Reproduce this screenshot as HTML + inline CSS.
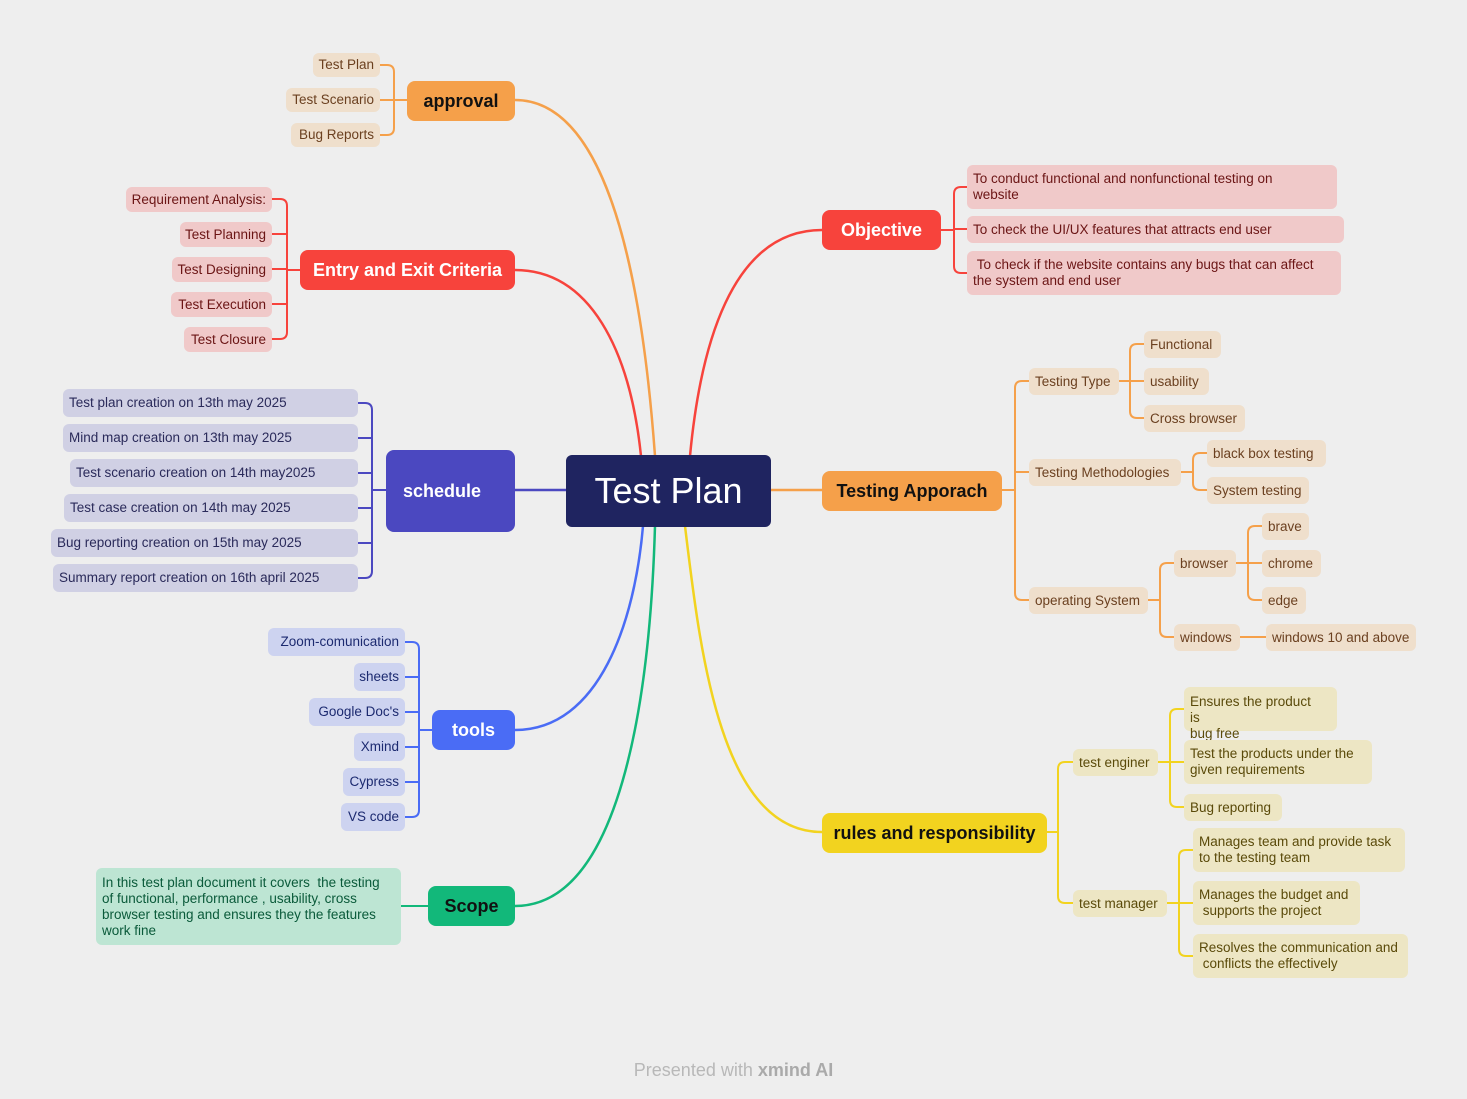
<!DOCTYPE html>
<html><head><meta charset="utf-8"><style>
body{margin:0;background:#eeeeee;width:1467px;height:1099px;overflow:hidden;position:relative;font-family:"Liberation Sans",sans-serif}
.n{position:absolute;box-sizing:border-box;border-radius:6px;font-size:13.5px;line-height:16px;padding:0 6px;white-space:nowrap;display:flex;align-items:center}
.R{justify-content:flex-end}
.m{border-radius:8px;font-size:18px;padding:0 17px;font-weight:bold}
.o{background:#efdfcc;color:#6b4020}
.r{background:#f0c9c9;color:#6b1515}
.s{background:#d0d0e4;color:#2a2a5a}
.t{background:#cdd3f0;color:#1c2a70}
.g{background:#bde5d3;color:#0a5a3a}
.y{background:#ede6c4;color:#5a4a0a}
.w{white-space:normal}
</style></head><body>
<svg id="sv" width="1467" height="1099" style="position:absolute;left:0;top:0" fill="none" stroke-width="2.5">
<path d="M515,100 C600,100 640,250 655,456" stroke="#f5a04a"/>
<path d="M515,270 C590,270 630,350 641,456" stroke="#f7433c"/>
<path d="M515,490 H566" stroke="#4b48c0"/>
<path d="M515,730 C600,730 635,620 643,526" stroke="#4a6cf5"/>
<path d="M515,906 C620,906 650,700 655,526" stroke="#12b87a"/>
<path d="M822,230 C730,230 700,350 690,456" stroke="#f7433c"/>
<path d="M770,490 H822" stroke="#f5a04a"/>
<path d="M822,832 C720,832 700,650 685,526" stroke="#f2d31f"/>
</svg>

<div class="n" style="left:566px;top:455px;width:205px;height:72px;background:#1f2460;color:#fff;font-size:36px;justify-content:center;border-radius:6px">Test Plan</div>

<div class="n m" style="left:407px;top:81px;width:108px;height:40px;background:#f5a04a;color:#111;justify-content:center">approval</div>
<div class="n o R" style="left:313px;top:53px;width:67px;height:24px">Test Plan</div>
<div class="n o R" style="left:286px;top:88px;width:94px;height:24px">Test Scenario</div>
<div class="n o R" style="left:291px;top:123px;width:89px;height:24px">Bug Reports</div>

<div class="n m" style="left:300px;top:250px;width:215px;height:40px;background:#f7433c;color:#fff;justify-content:center">Entry and Exit Criteria</div>
<div class="n r R" style="left:126px;top:187px;width:146px;height:25px">Requirement Analysis:</div>
<div class="n r R" style="left:180px;top:222px;width:92px;height:25px">Test Planning</div>
<div class="n r R" style="left:172px;top:257px;width:100px;height:25px">Test Designing</div>
<div class="n r R" style="left:171px;top:292px;width:101px;height:25px">Test Execution</div>
<div class="n r R" style="left:184px;top:327px;width:88px;height:25px">Test Closure</div>

<div class="n m" style="left:386px;top:450px;width:129px;height:82px;background:#4b48c0;color:#fff">schedule</div>
<div class="n s" style="left:63px;top:389px;width:295px;height:28px">Test plan creation on 13th may 2025</div>
<div class="n s" style="left:63px;top:424px;width:295px;height:28px">Mind map creation on 13th may 2025</div>
<div class="n s" style="left:70px;top:459px;width:288px;height:28px">Test scenario creation on 14th may2025</div>
<div class="n s" style="left:64px;top:494px;width:294px;height:28px">Test case creation on 14th may 2025</div>
<div class="n s" style="left:51px;top:529px;width:307px;height:28px">Bug reporting creation on 15th may 2025</div>
<div class="n s" style="left:53px;top:564px;width:305px;height:28px">Summary report creation on 16th april 2025</div>

<div class="n m" style="left:432px;top:710px;width:83px;height:40px;background:#4a6cf5;color:#fff;justify-content:center">tools</div>
<div class="n t R" style="left:268px;top:628px;width:137px;height:28px">Zoom-comunication</div>
<div class="n t R" style="left:354px;top:663px;width:51px;height:28px">sheets</div>
<div class="n t R" style="left:309px;top:698px;width:96px;height:28px">Google Doc's</div>
<div class="n t R" style="left:354px;top:733px;width:51px;height:28px">Xmind</div>
<div class="n t R" style="left:343px;top:768px;width:62px;height:28px">Cypress</div>
<div class="n t R" style="left:341px;top:803px;width:64px;height:28px">VS code</div>

<div class="n m" style="left:428px;top:886px;width:87px;height:40px;background:#12b87a;color:#111;justify-content:center">Scope</div>
<div class="n g w" style="left:96px;top:868px;width:305px;height:77px;font-size:13.5px;padding:0 6px">In this test plan document it covers&nbsp; the testing<br>of functional, performance , usability, cross<br>browser testing and ensures they the features<br>work fine</div>

<div class="n m" style="left:822px;top:210px;width:119px;height:40px;background:#f7433c;color:#fff;justify-content:center">Objective</div>
<div class="n r w" style="left:967px;top:165px;width:370px;height:44px">To conduct functional and nonfunctional testing on<br>website</div>
<div class="n r" style="left:967px;top:216px;width:377px;height:27px">To check the UI/UX features that attracts end user</div>
<div class="n r w" style="left:967px;top:251px;width:374px;height:44px">&nbsp;To check if the website contains any bugs that can affect<br>the system and end user</div>

<div class="n m" style="left:822px;top:471px;width:180px;height:40px;background:#f5a04a;color:#111;justify-content:center">Testing Apporach</div>
<div class="n o" style="left:1029px;top:368px;width:90px;height:27px">Testing Type</div>
<div class="n o" style="left:1029px;top:459px;width:152px;height:27px">Testing Methodologies</div>
<div class="n o" style="left:1029px;top:587px;width:119px;height:27px">operating System</div>
<div class="n o" style="left:1144px;top:331px;width:77px;height:27px">Functional</div>
<div class="n o" style="left:1144px;top:368px;width:65px;height:27px">usability</div>
<div class="n o" style="left:1144px;top:405px;width:101px;height:27px">Cross browser</div>
<div class="n o" style="left:1207px;top:440px;width:119px;height:27px">black box testing</div>
<div class="n o" style="left:1207px;top:477px;width:102px;height:27px">System testing</div>
<div class="n o" style="left:1174px;top:550px;width:62px;height:27px">browser</div>
<div class="n o" style="left:1174px;top:624px;width:66px;height:27px">windows</div>
<div class="n o" style="left:1262px;top:513px;width:47px;height:27px">brave</div>
<div class="n o" style="left:1262px;top:550px;width:59px;height:27px">chrome</div>
<div class="n o" style="left:1262px;top:587px;width:44px;height:27px">edge</div>
<div class="n o" style="left:1266px;top:624px;width:150px;height:27px">windows 10 and above</div>

<div class="n m" style="left:822px;top:813px;width:225px;height:40px;background:#f2d31f;color:#111;justify-content:center">rules and responsibility</div>
<div class="n y" style="left:1073px;top:749px;width:85px;height:27px">test enginer</div>
<div class="n y" style="left:1073px;top:890px;width:94px;height:27px">test manager</div>
<div class="n y w" style="left:1184px;top:687px;width:153px;height:44px;align-items:flex-start;padding-top:7px;overflow:visible">Ensures the product<br>is<br>bug free</div>
<div class="n y w" style="left:1184px;top:740px;width:188px;height:44px">Test the products under the given requirements</div>
<div class="n y" style="left:1184px;top:794px;width:98px;height:27px">Bug reporting</div>
<div class="n y w" style="left:1193px;top:828px;width:212px;height:44px">Manages team and provide task to the testing team</div>
<div class="n y w" style="left:1193px;top:881px;width:167px;height:44px">Manages the budget and &nbsp;supports the project</div>
<div class="n y w" style="left:1193px;top:934px;width:215px;height:44px">Resolves the communication and &nbsp;conflicts the effectively</div>

<div style="position:absolute;left:0;width:1467px;top:1060px;text-align:center;font-size:18px;color:#b8b8b8">Presented with <b style="color:#aaa">xmind AI</b></div>

<script>
var sv=document.getElementById('sv');
function p(d,c){var e=document.createElementNS('http://www.w3.org/2000/svg','path');e.setAttribute('d',d);e.setAttribute('stroke',c);e.setAttribute('stroke-width','2');e.setAttribute('fill','none');sv.appendChild(e);}
function br(px,py,bx,cx,cys,c,dir){
 var r=7;p('M'+px+','+py+' H'+bx,c);
 var a=cys[0],b=cys[cys.length-1];
 if(cys.length==1){p('M'+bx+','+py+' H'+cx,c);return;}
 var k=bx-dir*r;
 p('M'+cx+','+a+' H'+k+' Q'+bx+','+a+' '+bx+','+(a+r)+' V'+(b-r)+' Q'+bx+','+b+' '+k+','+b+' H'+cx,c);
 for(var i=1;i<cys.length-1;i++)p('M'+bx+','+cys[i]+' H'+cx,c);
}
var O='#f5a04a',Rr='#f7433c',S='#4b48c0',T='#4a6cf5',Y='#f2d31f';
br(407,100,394,380,[65,100,135],O,1);
br(300,270,287,272,[199,234,269,304,339],Rr,1);
br(386,490,372,358,[403,438,473,508,543,578],S,1);
br(432,730,419,405,[642,677,712,747,782,817],T,1);
p('M428,906 H401','#12b87a');
br(941,230,954,967,[187,229,273],Rr,-1);
br(1002,490,1015,1029,[381,472,600],O,-1);
br(1119,381,1130,1144,[344,381,418],O,-1);
br(1181,472,1193,1207,[453,490],O,-1);
br(1148,600,1160,1174,[563,637],O,-1);
br(1236,563,1248,1262,[526,563,600],O,-1);
p('M1240,637 H1266',O);
br(1047,832,1058,1073,[762,903],Y,-1);
br(1158,762,1170,1184,[709,762,807],Y,-1);
br(1167,903,1179,1193,[850,903,956],Y,-1);
</script>
</body></html>
